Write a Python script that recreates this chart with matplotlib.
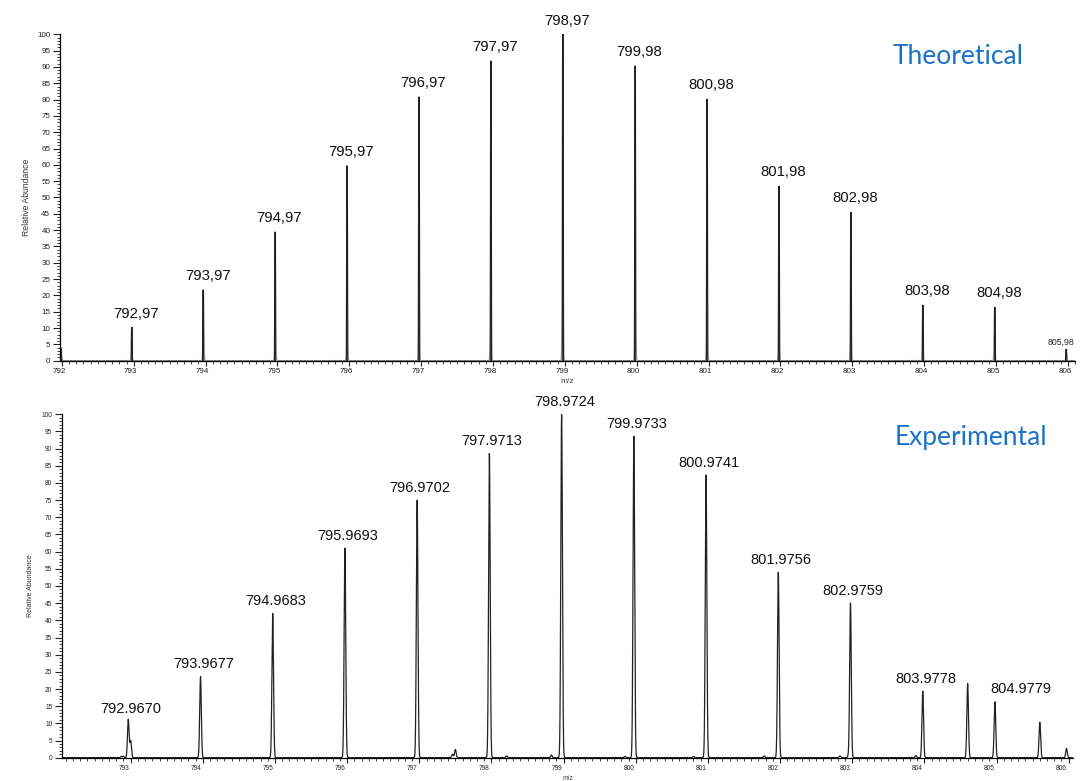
import numpy as np
import matplotlib.pyplot as plt
from matplotlib.ticker import MultipleLocator
from matplotlib.transforms import ScaledTranslation

plt.rcParams['font.family'] = ['Liberation Sans', 'DejaVu Sans']

# theoretical isotope pattern (m/z, relative abundance)
theo_mz = [792.97, 793.97, 794.97, 795.97, 796.97, 797.97, 798.97,
           799.98, 800.98, 801.98, 802.98, 803.98, 804.98, 805.98]
theo_int = [10.2, 21.8, 39.5, 59.8, 80.9, 91.9, 100.0,
            90.4, 80.2, 53.5, 45.5, 17.1, 16.4, 3.5]
# partial peak cut off at the left edge
theo_edge_mz = [791.99]
theo_edge_int = [4.0]

# experimental spectrum, labelled peaks
exp_mz = [792.9670, 793.9677, 794.9683, 795.9693, 796.9702, 797.9713, 798.9724,
          799.9733, 800.9741, 801.9756, 802.9759, 803.9778, 804.9779]
exp_int = [10.5, 23.6, 42.0, 61.0, 75.0, 88.6, 100.0,
           93.6, 82.3, 54.0, 45.0, 19.4, 16.3]
# unlabelled peaks and baseline noise
extra_mz = [793.00, 804.60, 805.60, 805.97, 797.50, 797.46, 792.90, 792.87,
            792.96, 798.21, 798.83, 801.78, 802.83, 802.95, 803.88, 800.80, 799.85]
extra_int = [4.9, 21.6, 10.3, 2.7, 2.4, 1.0, 0.4, 0.4,
             0.8, 0.5, 0.8, 0.5, 0.5, 0.8, 0.6, 0.4, 0.4]

BLUE = '#1a73c6'


def profile(x, centers, heights, sigma):
    y = np.zeros_like(x)
    for c, h in zip(centers, heights):
        y += h * np.exp(-0.5 * ((x - c) / sigma) ** 2)
    return y


def style_axes(ax, xlim, tick_fs, shift_px):
    ax.set_xlim(*xlim)
    ax.set_ylim(0, 100)
    for s in ['top', 'right']:
        ax.spines[s].set_visible(False)
    for s in ['left', 'bottom']:
        ax.spines[s].set_linewidth(0.9)
    ax.xaxis.set_major_locator(MultipleLocator(1))
    ax.xaxis.set_minor_locator(MultipleLocator(0.1))
    ax.yaxis.set_major_locator(MultipleLocator(5))
    ax.yaxis.set_minor_locator(MultipleLocator(1))
    ax.tick_params(axis='both', which='major', labelsize=tick_fs, colors='#222',
                   length=5, width=0.8, pad=2)
    ax.tick_params(axis='both', which='minor', length=2.5, width=0.6, colors='#222')
    ax.tick_params(axis='x', which='major', length=3.5)
    ax.tick_params(axis='x', which='minor', length=1.8)
    ax.set_xticks(np.arange(np.ceil(xlim[0]), xlim[1], 1.0))
    off = ScaledTranslation(shift_px / 100, 0, ax.figure.dpi_scale_trans)
    for lbl in ax.get_xticklabels():
        lbl.set_transform(lbl.get_transform() + off)


fig = plt.figure(figsize=(10.8, 7.81), dpi=100)

# ---- theoretical ----
ax1 = fig.add_axes([60 / 1080, 1 - 360.7 / 781, 1015 / 1080, (360.7 - 34.3) / 781])
xl1 = (791.974, 806.10)
x1 = np.linspace(xl1[0], xl1[1], 40000)
y1 = profile(x1, theo_mz + theo_edge_mz, theo_int + theo_edge_int, 0.006)
ax1.plot(x1, y1, color='#8a8a8a', lw=0.9)
ax1.vlines(theo_mz, 0, theo_int, color='black', lw=1.1)
ax1.vlines(theo_edge_mz, 0, theo_edge_int, color='#333', lw=1.5)
style_axes(ax1, xl1, 5.8, -3)
ax1.set_xlabel('m/z', fontsize=6, color='#444', labelpad=2)
ax1.set_ylabel('Relative Abundance', fontsize=6.2, color='#333', labelpad=4)

for m, v in zip(theo_mz, theo_int):
    txt = f'{m:.2f}'.replace('.', ',')
    if v < 5:
        ax1.annotate(txt, (m, v), xytext=(-4, 3), textcoords='offset points',
                     ha='center', va='baseline', fontsize=6.3, color='#222')
    else:
        ax1.annotate(txt, (m, v), xytext=(3, 7), textcoords='offset points',
                     ha='center', va='baseline', fontsize=10.7, color='#111')

fig.text(893 / 1080, 1 - 57 / 781, 'Theoretical', color=BLUE, fontsize=19,
         family='Lato', ha='left', va='center')

# ---- experimental ----
ax2 = fig.add_axes([62 / 1080, 1 - 757.7 / 781, 1011 / 1080, (757.7 - 414.3) / 781])
xl2 = (792.048, 806.06)
x2 = np.linspace(xl2[0], xl2[1], 40000)
y2 = profile(x2, exp_mz + extra_mz, exp_int + extra_int, 0.011)
ax2.plot(x2, y2, color='#222', lw=0.9)
style_axes(ax2, xl2, 4.7, -7)
ax2.set_xlabel('m/z', fontsize=4.8, color='#444', labelpad=2)
ax2.set_ylabel('Relative Abundance', fontsize=5, color='#333', labelpad=5)

for m, v in zip(exp_mz, exp_int):
    dx = 2
    if m > 804.5:
        dx = 19
    ax2.annotate(f'{m:.4f}', (m, v), xytext=(dx, 6), textcoords='offset points',
                 ha='center', va='baseline', fontsize=10.5, color='#111')

fig.text(895 / 1080, 1 - 438 / 781, 'Experimental', color=BLUE, fontsize=19,
         family='Lato', ha='left', va='center')

fig.savefig('out.png', dpi=100)
